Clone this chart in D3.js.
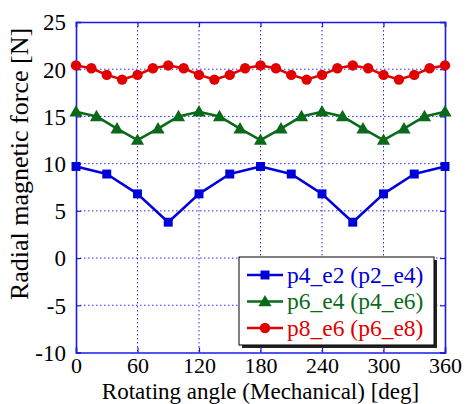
<!DOCTYPE html>
<html>
<head>
<meta charset="utf-8">
<script src="https://cdn.jsdelivr.net/npm/d3@7"></script>
<style>
  html, body { margin: 0; padding: 0; background: #fff; }
  svg { display: block; }
  svg text { font-family: "Liberation Serif", "Times New Roman", Times, "DejaVu Serif", serif !important; }
</style>
</head>
<body>
<svg id="chart" width="466" height="404"></svg>
<script>
// Rotating angle samples (deg) and radial force (N) for each pole/slot combination
const angles30 = [0, 30, 60, 90, 120, 150, 180, 210, 240, 270, 300, 330, 360];
const p4e2 = [9.7, 8.9, 6.8, 3.8, 6.8, 8.9, 9.7, 8.9, 6.8, 3.8, 6.8, 8.9, 9.7];

const angles20 = [0, 20, 40, 60, 80, 100, 120, 140, 160, 180, 200, 220, 240, 260, 280, 300, 320, 340, 360];
const p6e4 = [15.5, 15.0, 13.7, 12.5, 13.7, 15.0, 15.5, 15.0, 13.7, 12.5, 13.7, 15.0, 15.5, 15.0, 13.7, 12.5, 13.7, 15.0, 15.5];

const angles15 = [0, 15, 30, 45, 60, 75, 90, 105, 120, 135, 150, 165, 180, 195, 210, 225, 240, 255, 270, 285, 300, 315, 330, 345, 360];
const p8e6 = [20.4, 20.1, 19.4, 18.9, 19.4, 20.1, 20.4, 20.1, 19.4, 18.9, 19.4, 20.1, 20.4, 20.1, 19.4, 18.9, 19.4, 20.1, 20.4, 20.1, 19.4, 18.9, 19.4, 20.1, 20.4];

const xTicks = [0, 60, 120, 180, 240, 300, 360];
const yTicks = [-10, -5, 0, 5, 10, 15, 20, 25];
const seriesNames = ["p4_e2 (p2_e4)", "p6_e4 (p4_e6)", "p8_e6 (p6_e8)"];

(function draw() {
  const svg = d3.select("#chart");
  const plotLeft = 76, plotRight = 445, plotTop = 22, plotBottom = 352.5;

  const x = d3.scaleLinear().domain([0, 360]).range([plotLeft, plotRight]);
  const y = d3.scaleLinear().domain([-10, 25]).range([plotBottom, plotTop]);

  const frameColor = "#1a1ae6";
  const plainNumber = d => String(d);

  // dotted grid
  const grid = svg.append("g");
  grid.selectAll(".gx").data(xTicks.slice(1, -1)).join("line")
    .attr("x1", d => x(d)).attr("x2", d => x(d))
    .attr("y1", plotTop).attr("y2", plotBottom)
    .attr("stroke", "#2a2aff").attr("stroke-width", 1).attr("stroke-dasharray", "1.5,2.5");
  grid.selectAll(".gy").data(yTicks.slice(1, -1)).join("line")
    .attr("x1", plotLeft).attr("x2", plotRight)
    .attr("y1", d => y(d)).attr("y2", d => y(d))
    .attr("stroke", "#2a2aff").attr("stroke-width", 1).attr("stroke-dasharray", "1.5,2.5");

  // axes with inward ticks on all four sides
  const tickLen = 5;
  const axB = svg.append("g").attr("transform", `translate(0,${plotBottom})`)
    .call(d3.axisBottom(x).tickValues(xTicks).tickSize(-tickLen).tickPadding(6).tickFormat(plainNumber));
  const axT = svg.append("g").attr("transform", `translate(0,${plotTop})`)
    .call(d3.axisTop(x).tickValues(xTicks).tickSize(-tickLen).tickFormat(""));
  const axL = svg.append("g").attr("transform", `translate(${plotLeft},0)`)
    .call(d3.axisLeft(y).tickValues(yTicks).tickSize(-tickLen).tickPadding(10).tickFormat(plainNumber));
  const axR = svg.append("g").attr("transform", `translate(${plotRight},0)`)
    .call(d3.axisRight(y).tickValues(yTicks).tickSize(-tickLen).tickFormat(""));

  [axB, axT, axL, axR].forEach(g => {
    g.attr("font-family", null);
    g.select(".domain").attr("stroke", frameColor).attr("stroke-width", 1.6);
    g.selectAll(".tick line").attr("stroke", frameColor).attr("stroke-width", 1.2);
    g.selectAll(".tick text").attr("fill", "#000").style("font-size", "23px");
  });
  axB.selectAll(".tick text").style("font-size", "22px").attr("dy", "0.68em");
  axL.selectAll(".tick text").attr("dy", "0.34em");

  // axis titles
  svg.append("text")
    .attr("x", (plotLeft + plotRight) / 2).attr("y", 398.8)
    .attr("text-anchor", "middle").style("font-size", "23px")
    .text("Rotating angle (Mechanical) [deg]");
  svg.append("text")
    .attr("transform", `translate(28,164) rotate(-90)`)
    .attr("text-anchor", "middle").style("font-size", "26px")
    .text("Radial magnetic force [N]");

  const series = [
    { name: seriesNames[0], xs: angles30, ys: p4e2, color: "#0000d8", marker: "square" },
    { name: seriesNames[1], xs: angles20, ys: p6e4, color: "#0b6a1a", marker: "triangle" },
    { name: seriesNames[2], xs: angles15, ys: p8e6, color: "#e00000", marker: "circle" }
  ];

  const symbolFor = {
    square: d3.symbol().type(d3.symbolSquare).size(80),
    triangle: d3.symbol().type(d3.symbolTriangle).size(75),
    circle: d3.symbol().type(d3.symbolCircle).size(85)
  };

  const line = d3.line().x(d => x(d[0])).y(d => y(d[1]));

  series.forEach(s => {
    const pts = s.xs.map((a, i) => [a, s.ys[i]]);
    svg.append("path").datum(pts)
      .attr("d", line).attr("fill", "none")
      .attr("stroke", s.color).attr("stroke-width", 2.6).attr("stroke-linejoin", "round");
    svg.append("g").selectAll("path").data(pts).join("path")
      .attr("transform", d => `translate(${x(d[0])},${y(d[1]) + (s.marker === "triangle" ? 1 : 0)})`)
      .attr("d", symbolFor[s.marker]())
      .attr("fill", s.color);
  });

  // legend box with drop shadow
  const lg = { x: 239, y: 257, w: 195, h: 88 };
  svg.append("rect").attr("x", lg.x + 3).attr("y", lg.y + 3).attr("width", lg.w).attr("height", lg.h).attr("fill", "#222");
  svg.append("rect").attr("x", lg.x).attr("y", lg.y).attr("width", lg.w).attr("height", lg.h)
    .attr("fill", "#fff").attr("stroke", "#000").attr("stroke-width", 1);

  series.forEach((s, i) => {
    const cy = 275 + i * 26.5;
    svg.append("line").attr("x1", 247).attr("x2", 283).attr("y1", cy).attr("y2", cy)
      .attr("stroke", s.color).attr("stroke-width", 2.6);
    svg.append("path").attr("transform", `translate(265,${cy + (s.marker === "triangle" ? 1 : 0)})`)
      .attr("d", symbolFor[s.marker]()).attr("fill", s.color);
    svg.append("text").attr("x", 287).attr("y", cy).attr("dy", "0.33em")
      .style("font-size", "23.5px").attr("fill", s.color).text(s.name);
  });
})();
</script>
</body>
</html>
